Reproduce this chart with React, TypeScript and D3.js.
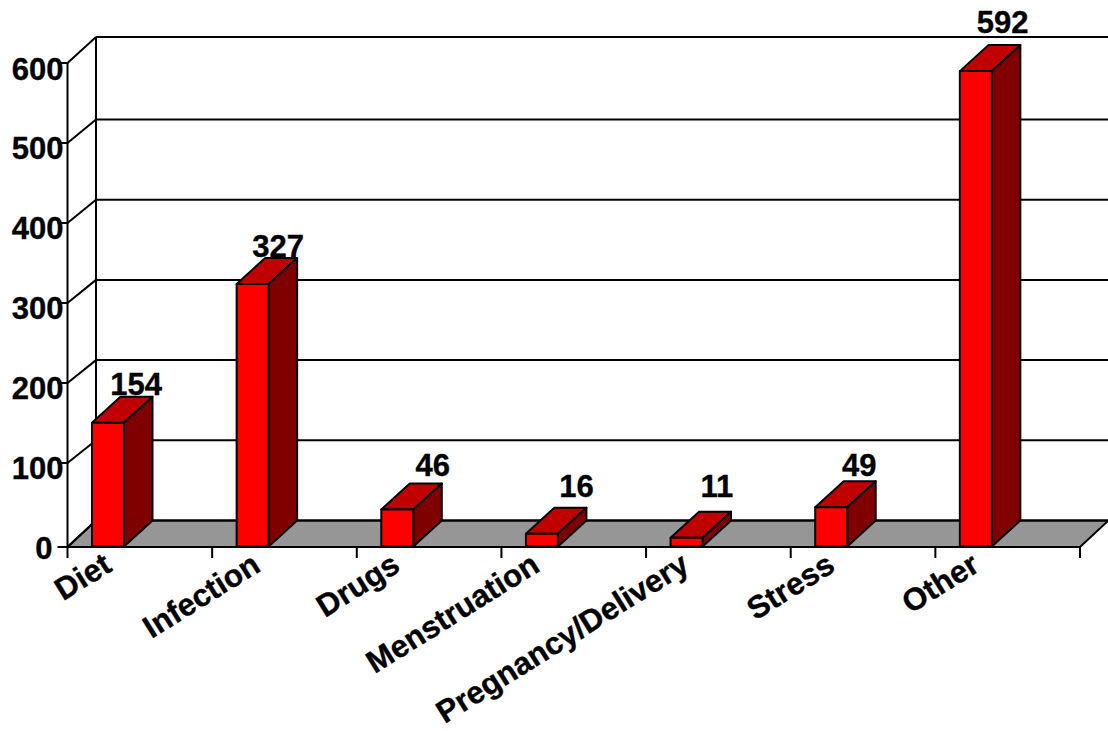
import React from "react";
import * as d3 from "d3";

// Triggers and their counts
const categories = ["Diet", "Infection", "Drugs", "Menstruation", "Pregnancy/Delivery", "Stress", "Other"];
const counts = [154, 327, 46, 16, 11, 49, 592];
const yTicks = [0, 100, 200, 300, 400, 500, 600];

// Per-label nudges for the value captions, relative to the bar's front top edge
const captionDx = [28.1, 25.5, 35.5, 34.5, 30.2, 28.1, 26.8];
const captionDy = [28, 27, 33.6, 36.7, 40.7, 31, 38];
// Horizontal nudges for the slanted category labels
const categoryDx = [1, 5, 0, -5, 0, 1, 1];

const WIDTH = 1108;
const HEIGHT = 731;
const FONT = "'Liberation Sans', Arial, sans-serif";
const DEPTH_X = 28.5;
const DEPTH_Y = 26;
const BAR_WIDTH = 32;
const BAR_INSET = 24.5;
const LINE = 2;

const x = d3.scaleBand<string>().domain(categories).range([67.5, 1080]);
const yBar = d3.scaleLinear().domain([0, 600]).range([546.5, 64.7]);
const yFront = d3.scaleLinear().domain([0, 100, 600]).range([547, 463, 63]);
const yBack = d3.scaleLinear().domain([0, 500, 600]).range([520.5, 119.5, 37]);
const yLabel = d3.scaleLinear().domain([0, 600]).range([558.5, 79.5]);

const poly = (pts: [number, number][]) => pts.map((p) => p.join(",")).join(" ");

const textStyle = {
  fontFamily: FONT,
  fontWeight: "bold",
  fill: "#000",
  stroke: "#000",
  strokeWidth: 0.35,
} as const;

export default function App() {
  const x0 = x.range()[0];
  const x1 = x.range()[1];
  const tickXs = [...categories.map((c) => x(c) as number), x1];

  return (
    <svg
      width={WIDTH}
      height={HEIGHT}
      viewBox={`0 0 ${WIDTH} ${HEIGHT}`}
      style={{ position: "absolute", left: 0, top: 0, background: "#fff" }}
    >
      {/* floor */}
      <polygon
        points={poly([
          [x0, yFront(0)],
          [x0 + DEPTH_X, yBack(0)],
          [x1 + DEPTH_X, yBack(0)],
          [x1, yFront(0)],
        ])}
        fill="#969696"
        stroke="#000"
        strokeWidth={LINE}
      />

      {/* back and side wall grid */}
      {yTicks.map((t) => (
        <g key={t} stroke="#000" strokeWidth={LINE} fill="none">
          <line x1={x0 + DEPTH_X} x2={x1 + DEPTH_X} y1={yBack(t)} y2={yBack(t)} />
          <line x1={x0} x2={x0 + DEPTH_X} y1={yFront(t)} y2={yBack(t)} />
          <line x1={x0 - 10} x2={x0} y1={yFront(t)} y2={yFront(t)} />
        </g>
      ))}
      <line x1={x0} x2={x0} y1={yFront(600)} y2={yFront(0)} stroke="#000" strokeWidth={LINE} />
      <line x1={x0 + DEPTH_X} x2={x0 + DEPTH_X} y1={yBack(600)} y2={yBack(0)} stroke="#000" strokeWidth={LINE} />

      {/* category ticks */}
      {tickXs.map((tx) => (
        <line key={tx} x1={tx} x2={tx} y1={yFront(0)} y2={yFront(0) + 11} stroke="#000" strokeWidth={LINE} />
      ))}

      {/* bars */}
      {categories.map((c, i) => {
        const left = (x(c) as number) + BAR_INSET;
        const right = left + BAR_WIDTH;
        const top = yBar(counts[i]);
        const base = yBar(0);
        return (
          <g key={c} stroke="#000" strokeWidth={LINE} strokeLinejoin="round">
            <polygon
              points={poly([
                [left, top],
                [left + DEPTH_X, top - DEPTH_Y],
                [right + DEPTH_X, top - DEPTH_Y],
                [right, top],
              ])}
              fill="#C00000"
            />
            <polygon
              points={poly([
                [right, top],
                [right + DEPTH_X, top - DEPTH_Y],
                [right + DEPTH_X, base - DEPTH_Y],
                [right, base],
              ])}
              fill="#800000"
            />
            <rect x={left} y={top} width={BAR_WIDTH} height={base - top} fill="#FF0000" />
          </g>
        );
      })}

      {/* value captions */}
      {categories.map((c, i) => (
        <text
          key={c}
          x={(x(c) as number) + BAR_INSET + BAR_WIDTH / 2 + captionDx[i]}
          y={yBar(counts[i]) - captionDy[i]}
          textAnchor="middle"
          fontSize={31}
          {...textStyle}
        >
          {counts[i]}
        </text>
      ))}

      {/* value axis labels */}
      {yTicks.map((t) => (
        <text
          key={t}
          x={t === 0 ? x0 - 15 : x0 - 4}
          y={yLabel(t)}
          textAnchor="end"
          fontSize={31}
          {...textStyle}
        >
          {t}
        </text>
      ))}

      {/* category labels */}
      {categories.map((c, i) => {
        const px = (x(c) as number) + 45 + categoryDx[i];
        const py = yFront(0) + 23;
        return (
          <text
            key={c}
            transform={`translate(${px},${py}) rotate(-32)`}
            textAnchor="end"
            fontSize={31.3}
            {...textStyle}
          >
            {c}
          </text>
        );
      })}
    </svg>
  );
}
